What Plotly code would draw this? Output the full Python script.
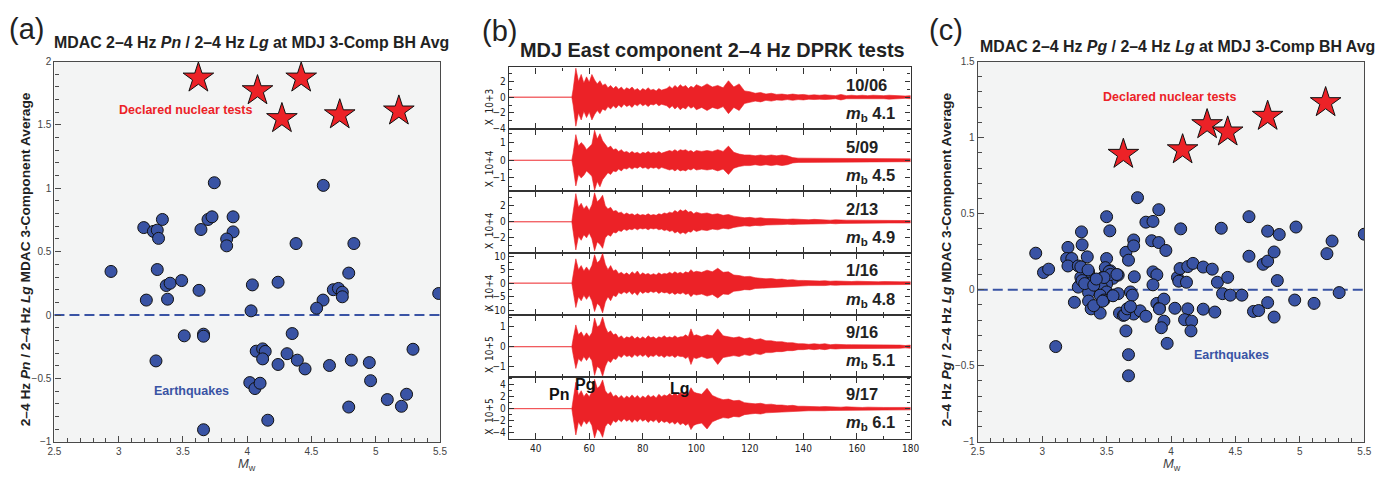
import plotly.graph_objects as go

W, H = 1398, 478
def fx(p): return p / W
def fy(p): return 1 - p / H

# ---------------- Panel (a) data: Pn/Lg ----------------
a_quake_mw = [3.744, 4.592, 3.195, 3.27, 3.30, 3.34, 3.31, 3.64, 3.695, 3.726, 3.89, 3.89, 3.84, 3.84,
              4.38, 4.83, 2.94, 3.30, 4.79, 3.37, 3.40, 3.49, 3.625, 4.04, 4.24, 4.67, 4.71, 4.74, 5.49,
              3.215, 3.38, 4.59, 4.74, 4.54, 4.03, 3.51, 3.66, 3.66, 3.29, 4.35, 4.07, 4.12, 4.14, 4.12,
              4.31, 4.24, 4.39, 4.45, 4.64, 4.81, 4.95, 4.96, 5.29, 4.02, 4.06, 4.10, 4.16, 4.79, 5.09,
              5.20, 5.24, 3.66]
a_quake_ratio = [1.044, 1.023, 0.69, 0.66, 0.67, 0.754, 0.605, 0.675, 0.754, 0.775, 0.775, 0.656, 0.60, 0.546,
                 0.564, 0.564, 0.344, 0.359, 0.331, 0.233, 0.251, 0.272, 0.195, 0.238, 0.259, 0.20, 0.21, 0.18, 0.17,
                 0.118, 0.125, 0.118, 0.144, 0.054, 0.033, -0.164, -0.151, -0.167, -0.362, -0.146, -0.285, -0.267,
                 -0.287, -0.346, -0.305, -0.39, -0.356, -0.425, -0.398, -0.356, -0.375, -0.518, -0.27, -0.533,
                 -0.58, -0.538, -0.83, -0.726, -0.667, -0.72, -0.625, -0.905]
a_test_mw = [3.62, 4.08, 4.42, 4.27, 4.72, 5.18]
a_test_ratio = [1.87, 1.77, 1.87, 1.55, 1.58, 1.61]

# ---------------- Panel (c) data: Pg/Lg ----------------
c_quake_mw = [2.95, 3.01, 3.05, 3.20, 3.305, 3.31, 3.19, 3.23, 3.20, 3.28, 3.35, 3.36, 3.30, 3.39, 3.30, 3.28,
              3.36, 3.25, 3.36, 3.38, 3.45, 3.40, 3.50, 3.525, 3.50, 3.49, 3.53, 3.47, 3.55, 3.59, 3.50, 3.46,
              3.50, 3.45, 3.48, 3.55, 3.59, 3.65, 3.67, 3.71, 3.71, 3.74, 3.715, 3.685, 3.70, 3.805, 3.86,
              3.905, 3.85, 3.905, 3.96, 3.86, 3.89, 3.86, 3.89, 3.91, 3.945, 4.075, 4.05, 4.06, 4.12, 4.07,
              4.13, 4.17, 4.03, 4.13, 4.25, 4.32, 4.25, 4.34, 4.36, 4.44, 4.39, 4.40, 4.46, 4.55, 4.605,
              4.605, 4.64, 4.68, 4.715, 4.75, 4.75, 4.84, 4.80, 4.825, 4.75, 4.80, 4.97, 4.96, 5.11, 5.21,
              5.25, 5.305, 5.50, 3.60, 3.63, 3.71, 3.76, 3.805, 3.945, 3.925, 3.65, 4.105, 4.16, 4.155,
              3.105, 3.97, 3.67, 3.67, 3.64, 3.66, 3.685, 3.47, 3.30, 3.356, 3.52, 3.53, 3.58, 3.48, 3.31,
              3.33, 3.40, 3.42, 3.55, 3.91]
c_quake_ratio = [0.24, 0.113, 0.135, 0.278, 0.38, 0.295, 0.205, 0.205, 0.156, 0.156, 0.216, 0.117, 0.081, 0.049,
                 0.038, 0.017, -0.019, -0.083, -0.075, -0.126, -0.154, -0.105, 0.48, 0.387, 0.205, 0.145, 0.124,
                 0.081, 0.075, 0.096, 0.038, 0.017, -0.015, -0.036, -0.068, -0.036, -0.026, 0.246, 0.194, 0.327,
                 0.288, 0.605, 0.085, -0.015, -0.036, 0.444, 0.449, 0.526, 0.322, 0.31, 0.258, 0.117, 0.098,
                 0.032, -0.09, -0.12, -0.062, 0.40, 0.081, 0.056, 0.049, 0.139, 0.152, 0.173, -0.122, -0.126,
                 0.149, 0.135, -0.128, -0.147, 0.049, 0.081, 0.404, -0.026, -0.036, -0.036, 0.48, 0.22, -0.143,
                 -0.137, 0.167, 0.188, 0.385, 0.363, 0.248, 0.06, -0.085, -0.18, 0.412, -0.068, -0.09, 0.237,
                 0.32, -0.019, 0.365, -0.154, -0.169, -0.16, -0.139, -0.175, -0.207, -0.25, -0.271, -0.197,
                 -0.207, -0.271, -0.374, -0.353, -0.427, -0.566, -0.165, -0.126, -0.111, -0.075, 0.15, 0.13,
                 0.12, 0.10, 0.10, 0.08, 0.06, 0.04, 0.03, 0.07, -0.04, -0.126]
c_test_mw = [3.63, 4.09, 4.28, 4.44, 4.75, 5.20]
c_test_ratio = [0.89, 0.92, 1.085, 1.037, 1.14, 1.23]

# ---------------- Panel (b) data: waveform envelopes ----------------
wave_time = [30, 53.5,
             54, 55, 56, 57, 58, 59, 60, 61, 62, 63, 64, 65, 66, 67, 68, 69, 70,
             71, 72, 73, 74, 75, 76, 77, 78, 79, 80, 81, 82, 83, 84, 85, 86, 87, 88, 89, 90,
             91, 92, 93, 94, 95, 96, 97, 98, 99, 100,
             102, 104, 106, 108, 110, 112, 114, 116, 118, 120, 122, 124, 126, 128, 130, 132, 134, 136, 138, 140,
             142, 144, 146, 148, 150, 152, 154, 156, 158, 160, 162, 164, 166, 168, 170, 172, 174, 176, 178, 180]
env_1006 = [0, 0,
            1.0, 3.7, 2.0, 2.9, 1.8, 2.6, 1.9, 2.9, 2.2, 1.7, 2.1, 1.5, 1.7, 1.2, 1.5, 1.1, 1.4,
            1.0, 1.3, 0.9, 1.2, 1.0, 1.3, 0.9, 1.1, 0.8, 1.1, 0.9, 1.2, 0.9, 1.0, 0.8, 1.1, 0.9, 1.0, 1.1, 1.4,
            1.1, 1.5, 1.2, 1.6, 1.3, 1.5, 1.1, 1.4, 1.2, 1.6,
            1.3, 1.7, 1.3, 1.5, 1.2, 2.1, 1.3, 1.7, 0.8, 0.7, 0.5, 0.6, 0.4, 0.5, 0.35, 0.4, 0.3, 0.4, 0.3, 0.35,
            0.25, 0.3, 0.25, 0.3, 0.25, 0.2, 0.35, 0.2, 0.25, 0.2, 0.25, 0.2, 0.25, 0.2, 0.2, 0.25, 0.2, 0.2, 0.15, 0.2]
env_0509 = [0, 0,
            0.4, 1.45, 0.8, 1.0, 0.85, 0.6, 0.75, 0.9, 1.7, 1.2, 1.5, 1.1, 0.9, 0.7, 0.8, 0.6, 0.65,
            0.5, 0.6, 0.45, 0.5, 0.4, 0.5, 0.4, 0.45, 0.35, 0.45, 0.4, 0.5, 0.4, 0.45, 0.4, 0.5, 0.4, 0.45, 0.5, 0.55,
            0.5, 0.6, 0.5, 0.6, 0.55, 0.6, 0.5, 0.55, 0.45, 0.55,
            0.5, 0.55, 0.5, 0.6, 0.5, 0.8, 0.45, 0.35, 0.3, 0.3, 0.25, 0.3, 0.25, 0.3, 0.25, 0.3, 0.25, 0.15, 0.12, 0.12,
            0.1, 0.12, 0.1, 0.12, 0.1, 0.1, 0.12, 0.1, 0.1, 0.08, 0.1, 0.08, 0.1, 0.08, 0.08, 0.1, 0.08, 0.08, 0.08, 0.08]
env_0213 = [0, 0,
            1.2, 3.5, 1.8, 2.3, 1.6, 2.0, 1.4, 2.1, 3.6, 2.5, 2.8, 3.3, 2.0, 1.6, 1.8, 1.3, 1.4,
            1.1, 1.2, 0.9, 1.1, 0.9, 1.0, 0.8, 1.0, 0.8, 0.9, 0.8, 1.0, 0.8, 0.9, 0.8, 1.0, 0.9, 1.1, 1.0, 1.2,
            1.1, 1.4, 1.2, 1.5, 1.3, 1.5, 1.2, 1.3, 1.0, 1.2,
            1.0, 1.1, 0.9, 1.0, 0.8, 0.9, 0.7, 0.6, 0.5, 0.55, 0.45, 0.5, 0.4, 0.4, 0.35, 0.35, 0.3, 0.35, 0.3, 0.3,
            0.25, 0.3, 0.25, 0.25, 0.2, 0.25, 0.2, 0.2, 0.2, 0.2, 0.15, 0.2, 0.15, 0.2, 0.15, 0.15, 0.15, 0.15, 0.12, 0.15]
env_0116 = [0, 0,
            3.0, 9.0, 5.0, 6.5, 4.5, 6.0, 4.5, 6.5, 10.5, 7.5, 8.5, 11.0, 7.0, 5.0, 6.5, 4.5, 5.0,
            3.5, 4.0, 3.2, 3.8, 3.0, 4.2, 3.4, 4.5, 3.0, 3.8, 3.2, 3.6, 3.0, 3.5, 3.0, 3.8, 3.2, 3.6, 3.4, 4.0,
            3.5, 4.2, 3.6, 4.0, 3.5, 4.2, 3.8, 5.0, 4.0, 4.4,
            4.0, 4.8, 4.2, 5.5, 4.0, 4.2, 3.0, 2.8, 2.4, 2.5, 2.0, 1.8, 1.6, 1.7, 1.4, 1.5, 1.2, 1.3, 1.0, 1.0,
            0.9, 0.9, 0.8, 0.9, 0.7, 0.8, 0.7, 0.7, 0.6, 0.7, 0.6, 0.6, 0.6, 0.5, 0.6, 0.5, 0.6, 0.5, 0.5, 0.5]
env_0916 = [0, 0,
            0.4, 1.1, 0.6, 0.75, 0.5, 0.7, 0.5, 0.7, 1.45, 1.0, 1.1, 1.5, 1.0, 0.7, 0.8, 0.6, 0.65,
            0.45, 0.55, 0.4, 0.5, 0.45, 0.55, 0.4, 0.5, 0.4, 0.5, 0.4, 0.55, 0.45, 0.5, 0.4, 0.5, 0.45, 0.55, 0.45, 0.5,
            0.45, 0.55, 0.45, 0.5, 0.5, 0.6, 0.5, 0.9, 0.55, 0.6,
            0.5, 0.6, 0.55, 0.9, 0.55, 0.5, 0.45, 0.5, 0.4, 0.45, 0.35, 0.4, 0.3, 0.3, 0.25, 0.25, 0.2, 0.2, 0.15, 0.15,
            0.12, 0.15, 0.12, 0.15, 0.1, 0.12, 0.1, 0.1, 0.1, 0.1, 0.08, 0.1, 0.08, 0.08, 0.08, 0.08, 0.08, 0.08, 0.06, 0.08]
env_0917 = [0, 0,
            1.5, 4.4, 2.2, 3.0, 2.0, 2.6, 2.0, 2.8, 4.9, 3.4, 3.8, 4.8, 3.0, 2.4, 2.8, 2.0, 2.3,
            1.8, 2.2, 1.7, 2.1, 1.8, 2.3, 1.8, 2.2, 1.7, 2.1, 1.8, 2.3, 1.9, 2.2, 1.8, 2.4, 2.0, 2.3, 2.1, 2.5,
            2.2, 2.6, 2.2, 2.7, 2.4, 2.8, 2.5, 3.5, 2.8, 2.6,
            2.4, 3.4, 2.2, 1.8, 1.5, 1.6, 1.3, 1.4, 1.0, 0.9, 0.8, 0.9, 0.7, 0.75, 0.6, 0.6, 0.5, 0.55, 0.4, 0.4,
            0.35, 0.35, 0.3, 0.35, 0.3, 0.3, 0.25, 0.3, 0.25, 0.25, 0.2, 0.25, 0.2, 0.2, 0.2, 0.2, 0.2, 0.2, 0.2, 0.2]

trace_envs = [env_1006, env_0509, env_0213, env_0116, env_0916, env_0917]
trace_dates = ["10/06", "5/09", "2/13", "1/16", "9/16", "9/17"]
trace_mb = ["4.1", "4.5", "4.9", "4.8", "5.1", "6.1"]
trace_scale = ["X  10+3", "X  10+4", "X  10+4", "X  10+4", "X  10+5", "X  10+5"]
trace_yrange = [[-4.1, 3.8], [-1.75, 1.75], [-3.9, 3.8], [-11.8, 11.1], [-1.53, 1.6], [-5.05, 5.3]]
trace_dtick = [2, 1, 2, 5, 1, 2]
trace_minor = [1, 0.5, 1, 2.5, 0.5, 1]
phase_names = ["Pn", "Pg", "Lg"]
phase_times = [48.6, 58.5, 94]

# ---------------- styling ----------------
RED = "#ec2227"
BLUE = "#3953a4"
AXC = "#4a4a4a"
FONT = "Arial, Liberation Sans, Helvetica, sans-serif"
NARROW = "Liberation Sans Narrow, Arial Narrow, DejaVu Sans Condensed, Arial, sans-serif"

fig = go.Figure()
layout = dict(width=W, height=H, margin=dict(l=0, r=0, t=0, b=0), autosize=False,
              paper_bgcolor="white", plot_bgcolor="white", showlegend=False,
              font=dict(family=FONT, color="#222"))
annotations = []
shapes = []

def scatter_axes(xdom, ydom, yr, xname, yname):
    common = dict(showline=True, linecolor=AXC, linewidth=1.2, mirror=True, showgrid=False,
                  zeroline=False, ticks="inside", ticklen=6, tickcolor=AXC, tickwidth=1,
                  tickfont=dict(size=10, color="#444", family=FONT))
    layout[xname] = dict(domain=xdom, range=[2.5, 5.5], dtick=0.5, tick0=0, anchor=yname.replace("yaxis", "y"),
                         minor=dict(dtick=0.1, ticks="inside", ticklen=4, tickcolor=AXC), **common)
    layout[yname] = dict(domain=ydom, range=yr, dtick=0.5, tick0=0, anchor=xname.replace("xaxis", "x"),
                         minor=dict(dtick=0.1, ticks="inside", ticklen=4, tickcolor=AXC), **common)

# Panel (a)
scatter_axes([fx(48), fx(438)], [fy(447), fy(57)], [-1, 2], "xaxis", "yaxis")
# Panel (c)
scatter_axes([fx(982), fx(1373)], [fy(447), fy(57)], [-1, 1.5], "xaxis8", "yaxis8")

for xr, yr in [("x", "y"), ("x8", "y8")]:
    shapes.append(dict(type="rect", xref=xr + " domain", yref=yr + " domain", x0=0, x1=1, y0=0, y1=1,
                       fillcolor="#f3f4f4", line=dict(width=0), layer="below"))
    shapes.append(dict(type="line", xref=xr + " domain", yref=yr, x0=0, x1=1, y0=0, y1=0,
                       line=dict(color=BLUE, width=2, dash="10px,5px"), layer="below"))

for (mw, rt, tmw, trt, xr, yr) in [(a_quake_mw, a_quake_ratio, a_test_mw, a_test_ratio, "x", "y"),
                                   (c_quake_mw, c_quake_ratio, c_test_mw, c_test_ratio, "x8", "y8")]:
    fig.add_trace(go.Scatter(x=mw, y=rt, mode="markers", xaxis=xr, yaxis=yr,
                             marker=dict(symbol="circle", size=12, color=BLUE,
                                         line=dict(color="#111", width=1))))
    fig.add_trace(go.Scatter(x=tmw, y=trt, mode="markers", xaxis=xr, yaxis=yr,
                             marker=dict(symbol="star", size=23, color=RED,
                                         line=dict(color="#111", width=1))))

# Panel (b)
borders = [63, 126.5, 190, 253.5, 317, 380.5, 444]
for k in range(6):
    xn = "xaxis%d" % (k + 2)
    yn = "yaxis%d" % (k + 2)
    xr = "x%d" % (k + 2)
    yr = "y%d" % (k + 2)
    layout[xn] = dict(domain=[fx(507.7), fx(914)], range=[30, 180], dtick=20, tick0=0, anchor=yr,
                      showline=True, linecolor="#333", linewidth=1.3, mirror="ticks", showgrid=False,
                      zeroline=False, ticks="inside", ticklen=6, tickcolor="#333",
                      minor=dict(dtick=10, ticks="inside", ticklen=3, tickcolor="#333"),
                      showticklabels=(k == 5),
                      tickfont=dict(size=10, color="#222", family=NARROW))
    if k < 5:
        layout[xn]["matches"] = "x7"
    layout[yn] = dict(domain=[fy(borders[k + 1]), fy(borders[k])], range=trace_yrange[k],
                      dtick=trace_dtick[k], tick0=0, anchor=xr,
                      showline=True, linecolor="#333", linewidth=1.3, mirror="ticks", showgrid=False,
                      zeroline=False, ticks="inside", ticklen=5, tickcolor="#333",
                      minor=dict(dtick=trace_minor[k], ticks="inside", ticklen=3, tickcolor="#333"),
                      tickfont=dict(size=10, color="#222", family=NARROW))
    env = trace_envs[k]
    xs = wave_time + wave_time[::-1]
    ys = env + [-v for v in env[::-1]]
    fig.add_trace(go.Scatter(x=xs, y=ys, mode="lines", fill="toself", fillcolor=RED,
                             line=dict(color=RED, width=0.6), xaxis=xr, yaxis=yr, hoverinfo="skip"))
    annotations.append(dict(text="<b>%s</b>" % trace_dates[k], xref=xr, yref=yr + " domain", x=155,
                            y=0.72, xanchor="left", yanchor="middle", showarrow=False,
                            font=dict(size=16.5, color="#222", family=FONT)))
    annotations.append(dict(text="<b><i>m</i><sub>b</sub> %s</b>" % trace_mb[k], xref=xr,
                            yref=yr + " domain", x=155, y=0.25, xanchor="left", yanchor="middle",
                            showarrow=False, font=dict(size=16.5, color="#222", family=FONT)))
    annotations.append(dict(text=trace_scale[k], xref="paper", yref="paper", x=fx(488),
                            y=fy(borders[k + 1] - 2), xanchor="center", yanchor="bottom",
                            textangle=-90, showarrow=False,
                            font=dict(size=10, color="#222", family=NARROW)))

phase_y = [0.72, 0.875, 0.82]
for name, t, yy in zip(phase_names, phase_times, phase_y):
    annotations.append(dict(text="<b>%s</b>" % name, xref="x7", yref="y7 domain", x=t, y=yy,
                            xanchor="center", yanchor="middle", showarrow=False,
                            font=dict(size=16, color="#111", family=FONT)))

# Panel labels and titles
for lbl, xp, yp in [("(a)", 0, 24), ("(b)", 478, 26), ("(c)", 931, 25)]:
    annotations.append(dict(text=lbl, xref="paper", yref="paper", x=fx(xp), y=fy(yp), xanchor="left",
                            yanchor="middle", showarrow=False, font=dict(size=29, color="#222", family=FONT)))
annotations.append(dict(text="<b>MDAC 2–4 Hz <i>Pn</i> / 2–4 Hz <i>Lg</i> at MDJ 3-Comp BH Avg</b>",
                        xref="paper", yref="paper", x=fx(46), y=fy(37), xanchor="left", yanchor="middle",
                        showarrow=False, font=dict(size=15.9, color="#222", family=FONT)))
annotations.append(dict(text="<b>MDJ East component 2–4 Hz DPRK tests</b>",
                        xref="paper", yref="paper", x=fx(714), y=fy(45), xanchor="center", yanchor="middle",
                        showarrow=False, font=dict(size=19.9, color="#222", family=FONT)))
annotations.append(dict(text="<b>MDAC 2–4 Hz <i>Pg</i> / 2–4 Hz <i>Lg</i> at MDJ 3-Comp BH Avg</b>",
                        xref="paper", yref="paper", x=fx(982), y=fy(42), xanchor="left", yanchor="middle",
                        showarrow=False, font=dict(size=15.9, color="#222", family=FONT)))

# Axis titles for (a) and (c)
for txt, xp in [("<b>2–4 Hz <i>Pn</i> / 2–4 Hz <i>Lg</i> MDAC 3-Component Average</b>", 19),
                ("<b>2–4 Hz <i>Pg</i> / 2–4 Hz <i>Lg</i> MDAC 3-Component Average</b>", 950)]:
    annotations.append(dict(text=txt, xref="paper", yref="paper", x=fx(xp), y=fy(260), xanchor="center",
                            yanchor="middle", textangle=-90, showarrow=False,
                            font=dict(size=13.7, color="#222", family=FONT)))
for xp in [243, 1178]:
    annotations.append(dict(text="<i>M</i><sub>w</sub>", xref="paper", yref="paper", x=fx(xp), y=fy(470),
                            xanchor="center", yanchor="middle", showarrow=False,
                            font=dict(size=13, color="#444", family=FONT)))

# Group labels
annotations.append(dict(text="<b>Declared nuclear tests</b>", xref="x", yref="y", x=3.52, y=1.62,
                        showarrow=False, font=dict(size=12.5, color=RED, family=FONT)))
annotations.append(dict(text="<b>Earthquakes</b>", xref="x", yref="y", x=3.567, y=-0.6,
                        showarrow=False, font=dict(size=12.5, color=BLUE, family=FONT)))
annotations.append(dict(text="<b>Declared nuclear tests</b>", xref="x8", yref="y8", x=3.99, y=1.267,
                        showarrow=False, font=dict(size=12.5, color=RED, family=FONT)))
annotations.append(dict(text="<b>Earthquakes</b>", xref="x8", yref="y8", x=4.47, y=-0.428,
                        showarrow=False, font=dict(size=12.5, color=BLUE, family=FONT)))

layout["annotations"] = annotations
layout["shapes"] = shapes
fig.update_layout(**layout)
fig.write_html("out.html")
